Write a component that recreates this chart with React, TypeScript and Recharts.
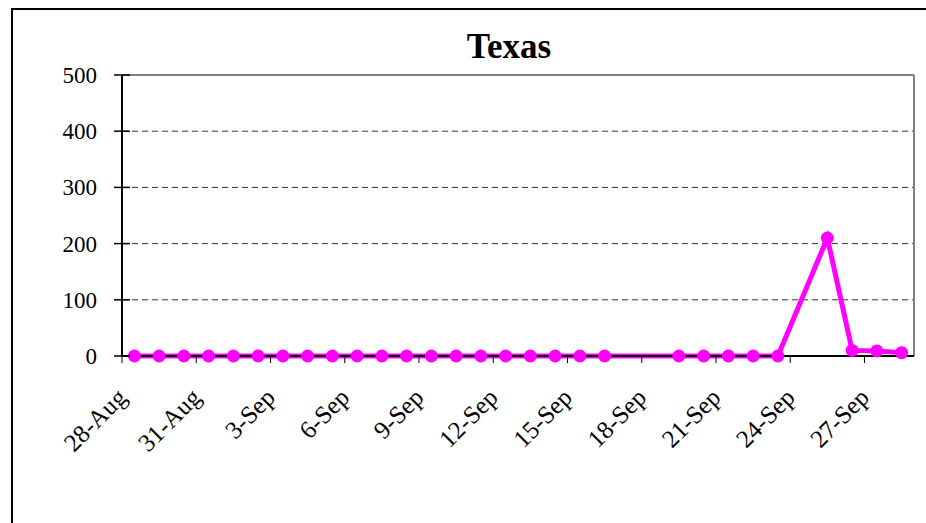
import { LineChart, Line, XAxis, YAxis, CartesianGrid, ReferenceLine } from 'recharts';

// one entry per calendar day, null = no report that day
const dates = [
  '28-Aug', '29-Aug', '30-Aug', '31-Aug', '1-Sep', '2-Sep', '3-Sep', '4-Sep',
  '5-Sep', '6-Sep', '7-Sep', '8-Sep', '9-Sep', '10-Sep', '11-Sep', '12-Sep',
  '13-Sep', '14-Sep', '15-Sep', '16-Sep', '17-Sep', '18-Sep', '19-Sep', '20-Sep',
  '21-Sep', '22-Sep', '23-Sep', '24-Sep', '25-Sep', '26-Sep', '27-Sep', '28-Sep',
];
const counts: (number | null)[] = [
  0, 0, 0, 0, 0, 0, 0, 0,
  0, 0, 0, 0, 0, 0, 0, 0,
  0, 0, 0, 0, null, null, 0, 0,
  0, 0, 0, null, 210, 10, 9, 6,
];
const yTicks = [0, 100, 200, 300, 400, 500];
const LABEL_EVERY = 3;

const FONT = '"Liberation Serif", "Times New Roman", serif';
const W = 926;
const H = 523;
const Y_GAP = 25;

const data = dates.map((d, i) => ({ i, date: d, value: counts[i] }));
// ticks sit on day boundaries, every third day
const xTicks = dates.map((_, i) => i - 0.5).filter((_, i) => i % LABEL_EVERY === 0);

const DateTick = ({ x, y, payload }: any) => {
  const label = dates[Math.round(payload.value + 0.5)];
  const ax = x + 6;
  const ay = y + 34;
  return (
    <text
      x={ax}
      y={ay}
      transform={`rotate(-45 ${ax} ${ay})`}
      textAnchor="end"
      fontFamily={FONT}
      fontSize={25}
      fill="#000"
    >
      {label}
    </text>
  );
};

// excel style tick mark that crosses the axis
const ValueTick = ({ x, y, payload }: any) => {
  const axisX = x + Y_GAP;
  return (
    <g>
      <line x1={axisX - 8} x2={axisX + 8} y1={y} y2={y} stroke="#000" strokeWidth={1.5} />
      <text x={x} y={y} dy={8} textAnchor="end" fontFamily={FONT} fontSize={23} fill="#000">
        {payload.value}
      </text>
    </g>
  );
};

export default function App() {
  return (
    <div style={{ position: 'absolute', left: 0, top: 0, width: W, height: H, overflow: 'hidden', background: '#fff' }}>
      <div
        style={{
          position: 'absolute',
          left: 11,
          top: 8,
          width: 1000,
          height: 700,
          border: '2px solid #000',
        }}
      />
      <div style={{ position: 'absolute', left: 0, top: 0 }}>
        <LineChart width={W} height={H} data={data} margin={{ top: 75, right: 12, left: 0, bottom: 0 }}>
          <CartesianGrid vertical={false} stroke="#333" strokeDasharray="6 4" />
          <XAxis
            dataKey="i"
            type="number"
            domain={[-0.5, dates.length - 0.5]}
            ticks={xTicks}
            interval={0}
            height={167}
            axisLine={{ stroke: '#000', strokeWidth: 2 }}
            tickLine={{ stroke: '#000' }}
            tickSize={7}
            tick={<DateTick />}
          />
          <YAxis
            type="number"
            domain={[0, 500]}
            ticks={yTicks}
            interval={0}
            width={122}
            axisLine={{ stroke: '#000', strokeWidth: 2 }}
            tickLine={false}
            tickSize={0}
            tickMargin={Y_GAP}
            tick={<ValueTick />}
          />
          <ReferenceLine y={500} stroke="#808080" strokeWidth={2} />
          <ReferenceLine x={dates.length - 0.5} stroke="#808080" strokeWidth={2} />
          <Line
            dataKey="value"
            stroke="#FF00FF"
            strokeWidth={5}
            connectNulls
            dot={{ r: 6.5, fill: '#FF00FF', stroke: 'none' }}
            activeDot={false}
            isAnimationActive={false}
          />
        </LineChart>
      </div>
      <svg width={W} height={H} style={{ position: 'absolute', left: 0, top: 0, pointerEvents: 'none' }}>
        <text x={509} y={58} textAnchor="middle" fontFamily={FONT} fontSize={35} fontWeight="bold" fill="#000">
          Texas
        </text>
      </svg>
    </div>
  );
}
